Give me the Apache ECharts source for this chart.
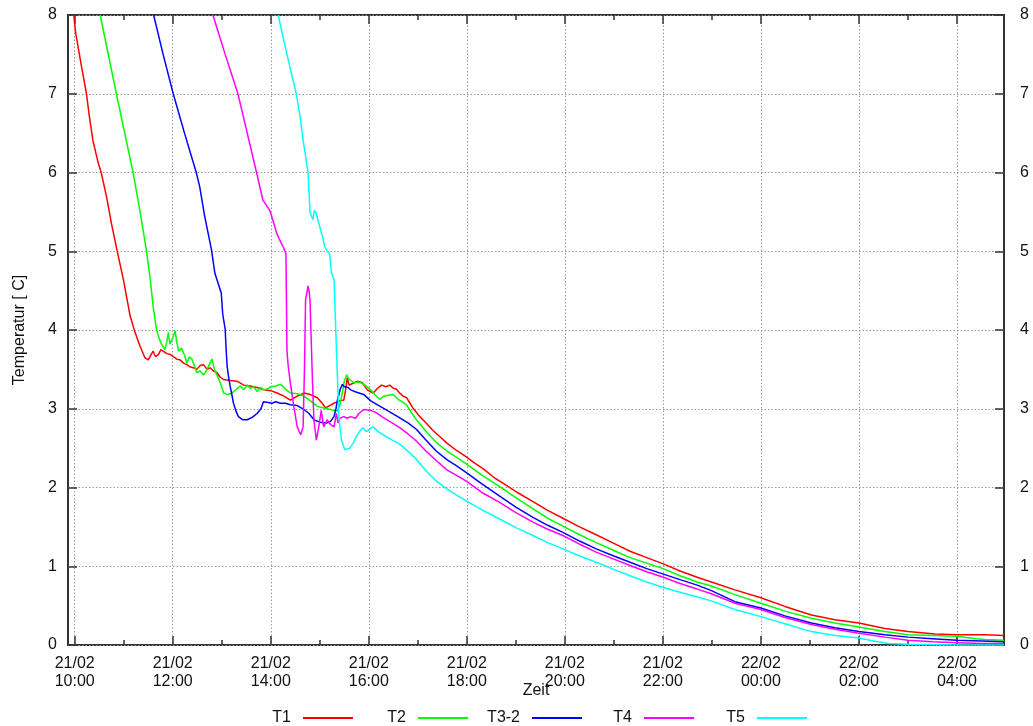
<!DOCTYPE html>
<html>
<head>
<meta charset="utf-8">
<script src="https://cdn.jsdelivr.net/npm/echarts@6/dist/echarts.min.js"></script>
<style>
  html, body { margin: 0; padding: 0; background: #ffffff; }
  #chart { width: 1033px; height: 726px; }
</style>
</head>
<body>
<div id="chart"></div>
<script>
// Each point: [hours after 21/02 10:00, temperature in C]
const T1 = [
  [-0.02, 8.0], [0.02, 7.77], [0.14, 7.34], [0.24, 7.0], [0.29, 6.75], [0.37, 6.41], [0.48, 6.12],
  [0.54, 6.0], [0.65, 5.69], [0.75, 5.35], [0.86, 5.02], [0.99, 4.65], [1.13, 4.18], [1.23, 3.97],
  [1.33, 3.80], [1.43, 3.65], [1.50, 3.62], [1.54, 3.60], [1.57, 3.70], [1.60, 3.73], [1.65, 3.66],
  [1.71, 3.69], [1.76, 3.75], [1.81, 3.73], [1.88, 3.70], [1.95, 3.69], [2.02, 3.66], [2.08, 3.63],
  [2.15, 3.62], [2.22, 3.58], [2.29, 3.56], [2.36, 3.53], [2.42, 3.52], [2.49, 3.50], [2.56, 3.55],
  [2.63, 3.56], [2.70, 3.50], [2.76, 3.52], [2.83, 3.48], [2.90, 3.46], [2.97, 3.40], [3.04, 3.37],
  [3.17, 3.36], [3.31, 3.35], [3.45, 3.30], [3.58, 3.29], [3.72, 3.27], [3.86, 3.24], [4.00, 3.23],
  [4.13, 3.20], [4.27, 3.16], [4.40, 3.11], [4.54, 3.16], [4.68, 3.20], [4.81, 3.18], [4.95, 3.14],
  [5.05, 3.07], [5.12, 3.01], [5.20, 3.04], [5.29, 3.07], [5.40, 3.10], [5.49, 3.11], [5.53, 3.25],
  [5.56, 3.39], [5.60, 3.30], [5.63, 3.29], [5.70, 3.33], [5.77, 3.35], [5.87, 3.33], [5.97, 3.24],
  [6.09, 3.20], [6.18, 3.26], [6.26, 3.30], [6.35, 3.28], [6.43, 3.30], [6.50, 3.26], [6.56, 3.25],
  [6.63, 3.20], [6.70, 3.16], [6.77, 3.14], [6.84, 3.07], [6.90, 3.01], [7.04, 2.90], [7.17, 2.82],
  [7.30, 2.73], [7.44, 2.65], [7.60, 2.56], [7.79, 2.47], [7.99, 2.39], [8.16, 2.31], [8.33, 2.24],
  [8.55, 2.13], [8.80, 2.03], [9.05, 1.93], [9.35, 1.82], [9.65, 1.71], [9.96, 1.61], [10.30, 1.50],
  [10.64, 1.40], [11.00, 1.29], [11.33, 1.19], [11.67, 1.11], [12.01, 1.03], [12.35, 0.94],
  [12.70, 0.86], [12.99, 0.80], [13.47, 0.70], [14.00, 0.60], [14.49, 0.49], [15.03, 0.38],
  [15.51, 0.32], [16.00, 0.28], [16.53, 0.21], [17.00, 0.17], [17.55, 0.14], [17.99, 0.13],
  [18.57, 0.13], [18.96, 0.12]
];

const T2 = [
  [0.52, 8.0], [0.85, 7.0], [1.19, 6.0], [1.33, 5.52], [1.46, 5.02], [1.54, 4.65], [1.60, 4.30],
  [1.67, 4.0], [1.72, 3.90], [1.77, 3.82], [1.84, 3.75], [1.88, 3.85], [1.91, 3.97], [1.94, 3.82],
  [1.96, 3.80], [2.00, 3.90], [2.05, 3.99], [2.08, 3.85], [2.12, 3.73], [2.18, 3.77], [2.24, 3.68],
  [2.29, 3.58], [2.34, 3.66], [2.39, 3.63], [2.44, 3.55], [2.49, 3.46], [2.56, 3.48], [2.63, 3.43],
  [2.70, 3.50], [2.76, 3.58], [2.80, 3.63], [2.85, 3.50], [2.90, 3.43], [2.97, 3.33], [3.04, 3.20],
  [3.12, 3.18], [3.21, 3.20], [3.30, 3.25], [3.38, 3.29], [3.45, 3.24], [3.52, 3.30], [3.58, 3.26],
  [3.65, 3.28], [3.72, 3.22], [3.79, 3.27], [3.86, 3.24], [3.93, 3.25], [4.00, 3.28], [4.10, 3.29],
  [4.20, 3.31], [4.30, 3.25], [4.40, 3.20], [4.54, 3.19], [4.68, 3.16], [4.81, 3.10], [4.95, 3.03],
  [5.08, 3.01], [5.22, 2.99], [5.36, 2.97], [5.41, 3.05], [5.46, 3.20], [5.50, 3.35], [5.55, 3.43],
  [5.59, 3.38], [5.63, 3.37], [5.70, 3.33], [5.77, 3.34], [5.84, 3.33], [5.92, 3.30], [6.04, 3.24],
  [6.12, 3.18], [6.22, 3.12], [6.31, 3.16], [6.40, 3.17], [6.50, 3.18], [6.60, 3.12], [6.70, 3.08],
  [6.77, 3.05], [6.85, 2.97], [6.97, 2.86], [7.17, 2.71], [7.38, 2.57], [7.60, 2.46], [7.80, 2.38],
  [7.99, 2.30], [8.30, 2.16], [8.67, 2.01], [9.00, 1.87], [9.35, 1.73], [9.65, 1.61], [9.96, 1.51],
  [10.30, 1.40], [10.64, 1.30], [11.00, 1.20], [11.33, 1.11], [11.67, 1.04], [12.01, 0.97],
  [12.35, 0.88], [12.70, 0.80], [12.99, 0.75], [13.47, 0.64], [14.00, 0.53], [14.49, 0.43],
  [15.03, 0.34], [15.51, 0.28], [16.00, 0.23], [16.53, 0.17], [17.00, 0.13], [17.50, 0.12],
  [17.99, 0.11], [18.40, 0.08], [18.57, 0.07], [18.96, 0.06]
];

const T3_2 = [
  [1.61, 8.0], [1.80, 7.51], [2.01, 7.0], [2.24, 6.5], [2.48, 6.0], [2.55, 5.82], [2.65, 5.45],
  [2.79, 5.02], [2.86, 4.72], [2.99, 4.47], [3.02, 4.20], [3.07, 4.01], [3.09, 3.75], [3.11, 3.54],
  [3.14, 3.40], [3.17, 3.29], [3.20, 3.20], [3.24, 3.07], [3.29, 2.97], [3.34, 2.90], [3.43, 2.86],
  [3.52, 2.86], [3.62, 2.89], [3.72, 2.94], [3.80, 3.00], [3.85, 3.09], [3.89, 3.09], [3.95, 3.08],
  [4.03, 3.07], [4.10, 3.09], [4.20, 3.07], [4.30, 3.07], [4.40, 3.05], [4.54, 3.04], [4.68, 2.99],
  [4.78, 2.94], [4.88, 2.86], [5.00, 2.83], [5.15, 2.82], [5.22, 2.84], [5.29, 2.90], [5.33, 3.00],
  [5.36, 3.11], [5.42, 3.25], [5.46, 3.31], [5.50, 3.28], [5.53, 3.26], [5.58, 3.27], [5.63, 3.24],
  [5.75, 3.21], [5.90, 3.18], [6.04, 3.10], [6.18, 3.05], [6.40, 2.97], [6.59, 2.90], [6.80, 2.82],
  [6.97, 2.74], [7.17, 2.60], [7.38, 2.46], [7.60, 2.35], [7.80, 2.27], [7.99, 2.19], [8.30, 2.05],
  [8.67, 1.89], [9.00, 1.75], [9.35, 1.62], [9.65, 1.52], [9.96, 1.43], [10.30, 1.32], [10.64, 1.22],
  [11.00, 1.13], [11.33, 1.05], [11.67, 0.97], [12.01, 0.90], [12.35, 0.83], [12.70, 0.76],
  [12.99, 0.69], [13.47, 0.55], [14.00, 0.47], [14.49, 0.37], [15.03, 0.28], [15.51, 0.22],
  [16.00, 0.17], [16.53, 0.13], [17.00, 0.10], [17.50, 0.08], [17.99, 0.06], [18.50, 0.05],
  [18.96, 0.04]
];

const T4 = [
  [2.82, 8.0], [3.07, 7.5], [3.33, 7.0], [3.52, 6.5], [3.71, 6.0], [3.84, 5.65], [3.98, 5.52],
  [4.05, 5.38], [4.12, 5.23], [4.20, 5.12], [4.25, 5.06], [4.31, 4.97], [4.33, 3.75], [4.35, 3.58],
  [4.39, 3.37], [4.47, 3.03], [4.54, 2.77], [4.61, 2.67], [4.66, 2.77], [4.69, 3.58], [4.71, 4.39],
  [4.73, 4.45], [4.76, 4.56], [4.78, 4.50], [4.80, 4.39], [4.85, 3.37], [4.88, 2.86], [4.93, 2.60],
  [4.98, 2.77], [5.03, 2.98], [5.08, 2.77], [5.15, 2.86], [5.22, 2.80], [5.29, 2.77], [5.34, 2.94],
  [5.37, 2.82], [5.41, 2.88], [5.49, 2.90], [5.56, 2.88], [5.63, 2.90], [5.73, 2.88], [5.80, 2.94],
  [5.90, 2.99], [6.04, 2.98], [6.15, 2.95], [6.29, 2.89], [6.45, 2.83], [6.63, 2.76], [6.80, 2.68],
  [6.97, 2.59], [7.17, 2.46], [7.38, 2.34], [7.60, 2.22], [7.80, 2.15], [7.99, 2.08], [8.30, 1.94],
  [8.67, 1.81], [9.00, 1.68], [9.35, 1.56], [9.65, 1.47], [9.96, 1.39], [10.30, 1.28], [10.64, 1.18],
  [11.00, 1.09], [11.33, 1.01], [11.67, 0.93], [12.01, 0.86], [12.35, 0.78], [12.70, 0.71],
  [12.99, 0.65], [13.47, 0.53], [14.00, 0.45], [14.49, 0.35], [15.03, 0.26], [15.51, 0.20],
  [16.00, 0.15], [16.53, 0.10], [17.00, 0.06], [17.50, 0.04], [17.99, 0.03], [18.50, 0.02],
  [18.96, 0.02]
];

const T5 = [
  [4.15, 8.0], [4.33, 7.5], [4.52, 7.0], [4.60, 6.7], [4.66, 6.41], [4.76, 6.0], [4.80, 5.50],
  [4.83, 5.45], [4.86, 5.40], [4.89, 5.52], [4.93, 5.48], [4.96, 5.40], [5.00, 5.31], [5.05, 5.20],
  [5.10, 5.06], [5.15, 5.00], [5.20, 4.97], [5.24, 4.72], [5.27, 4.70], [5.29, 4.64], [5.34, 3.75],
  [5.39, 2.90], [5.44, 2.61], [5.51, 2.48], [5.61, 2.50], [5.68, 2.56], [5.75, 2.65], [5.82, 2.72],
  [5.88, 2.76], [5.95, 2.71], [6.02, 2.74], [6.09, 2.77], [6.19, 2.71], [6.29, 2.67], [6.45, 2.61],
  [6.63, 2.55], [6.80, 2.46], [6.97, 2.36], [7.17, 2.21], [7.38, 2.08], [7.60, 1.98], [7.80, 1.90],
  [7.99, 1.83], [8.30, 1.72], [8.67, 1.60], [9.00, 1.49], [9.35, 1.39], [9.65, 1.30], [9.96, 1.22],
  [10.30, 1.13], [10.64, 1.05], [11.00, 0.96], [11.33, 0.88], [11.67, 0.80], [12.01, 0.73],
  [12.35, 0.67], [12.70, 0.61], [12.99, 0.56], [13.47, 0.45], [14.00, 0.36], [14.49, 0.27],
  [15.03, 0.17], [15.51, 0.12], [16.00, 0.09], [16.30, 0.05], [16.60, 0.02], [17.00, 0.01],
  [18.00, 0.00], [18.96, 0.00]
];

const seriesNames = ['T1', 'T2', 'T3-2', 'T4', 'T5'];
const seriesColors = ['#ff0000', '#00ff00', '#0000ff', '#ff00ff', '#00ffff'];
const seriesData = [T1, T2, T3_2, T4, T5];

// Time axis: hours after 21/02 10:00
const xStart = -0.137;
const xEnd = 18.96;
const majorHours = [0, 2, 4, 6, 8, 10, 12, 14, 16, 18];
const minorHours = [1, 3, 5, 7, 9, 11, 13, 15, 17];
const majorLabels = [
  '21/02\n10:00', '21/02\n12:00', '21/02\n14:00', '21/02\n16:00', '21/02\n18:00',
  '21/02\n20:00', '21/02\n22:00', '22/02\n00:00', '22/02\n02:00', '22/02\n04:00'
];
const yTickLabels = ['0', '1', '2', '3', '4', '5', '6', '7', '8'];

const FONT = 'Liberation Sans, Arial, sans-serif';
const TEXT = '#111111';
const FRAME = '#333333';

const gridLine = { color: '#9a9a9a', width: 1, type: [1.5, 2] };
const tickLine = { color: FRAME, width: 1.5 };

function timeAxis(position, ticks, tickLen, withLabels) {
  return {
    type: 'value',
    position: position,
    min: xStart,
    max: xEnd,
    axisLine: { show: false, onZero: false },
    axisTick: { show: true, inside: true, length: tickLen, lineStyle: tickLine, customValues: ticks },
    axisLabel: withLabels ? {
      show: true,
      customValues: ticks,
      margin: 10,
      fontFamily: FONT,
      fontSize: 16,
      lineHeight: 18,
      color: TEXT,
      formatter: v => majorLabels[majorHours.indexOf(Math.round(v))] || ''
    } : { show: false },
    splitLine: { show: false }
  };
}

const xMain = timeAxis('bottom', majorHours, 9, true);
xMain.splitLine = { show: true, lineStyle: gridLine };
xMain.name = 'Zeit';
xMain.nameLocation = 'middle';
xMain.nameGap = 38;
xMain.nameMoveOverlap = false;
xMain.nameTextStyle = { fontFamily: FONT, fontSize: 16, color: TEXT };

function tempAxis(position, margin, withGrid) {
  return {
    type: 'value',
    position: position,
    min: 0,
    max: 8,
    interval: 1,
    axisLine: { show: false, onZero: false },
    axisTick: { show: true, inside: true, length: 9, lineStyle: tickLine },
    axisLabel: {
      show: true, margin: margin, fontFamily: FONT, fontSize: 16, color: TEXT,
      formatter: v => yTickLabels[Math.round(v)]
    },
    splitLine: withGrid ? { show: true, lineStyle: gridLine } : { show: false }
  };
}

const yLeft = tempAxis('left', 11, true);
yLeft.name = 'Temperatur [ C]';
yLeft.nameLocation = 'middle';
yLeft.nameRotate = 90;
yLeft.nameGap = 40;
yLeft.nameMoveOverlap = false;
yLeft.nameTextStyle = { fontFamily: FONT, fontSize: 16, color: TEXT };
const yRight = tempAxis('right', 16, false);

// Legend entries laid out under the plot: text, then a line sample
const legendRight = [680, 565, 451, 339, 226];
const legends = seriesNames.map((name, i) => ({
  data: [name],
  right: legendRight[i],
  top: 709,
  padding: 0,
  align: 'right',
  icon: 'rect',
  itemWidth: 50,
  itemHeight: 2,
  selectedMode: false,
  textStyle: { fontFamily: FONT, fontSize: 16, lineHeight: 18, color: TEXT, padding: [0, 7, 0, 0] }
}));

const chart = echarts.init(document.getElementById('chart'), null, { renderer: 'canvas' });
chart.setOption({
  animation: false,
  backgroundColor: '#ffffff',
  grid: {
    left: 68, right: 29, top: 15, bottom: 81,
    containLabel: false,
    outerBoundsMode: 'none',
    show: true,
    borderColor: FRAME,
    borderWidth: 2,
    backgroundColor: 'transparent'
  },
  legend: legends,
  xAxis: [
    xMain,
    timeAxis('bottom', minorHours, 5, false),
    timeAxis('top', majorHours, 9, false),
    timeAxis('top', minorHours, 5, false)
  ],
  yAxis: [yLeft, yRight],
  series: seriesData.map((d, i) => ({
    name: seriesNames[i],
    type: 'line',
    xAxisIndex: 0,
    yAxisIndex: 0,
    data: d,
    showSymbol: false,
    symbol: 'none',
    clip: true,
    color: seriesColors[i],
    lineStyle: { color: seriesColors[i], width: 1.5 },
    emphasis: { disabled: true }
  }))
});
</script>
</body>
</html>
